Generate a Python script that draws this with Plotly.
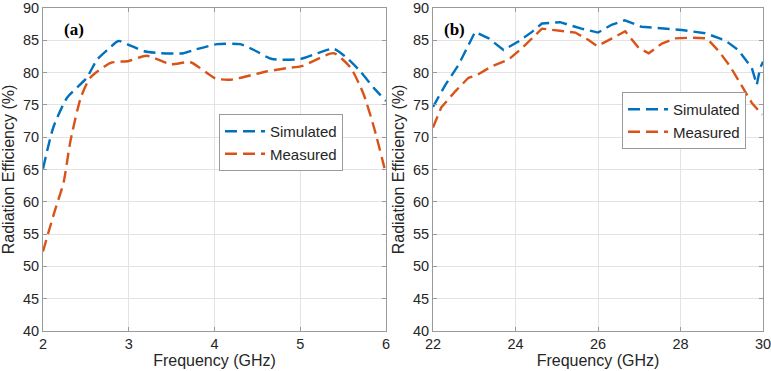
import plotly.graph_objects as go

# Panel (a) data
fa_sim = [2.0, 2.12, 2.28, 2.51, 2.63, 2.75, 2.88, 3.0, 3.18, 3.37, 3.64, 3.76, 4.03, 4.3, 4.46, 4.67, 5.0, 5.2, 5.39, 5.55, 5.7, 5.86, 6.0]
a_sim = [65.1, 71.5, 76.1, 79.2, 82.0, 83.5, 84.9, 84.3, 83.3, 83.0, 83.0, 83.5, 84.4, 84.4, 83.5, 82.1, 82.1, 83.0, 83.7, 82.2, 80.2, 77.6, 75.6]
fa_mea = [2.0, 2.06, 2.14, 2.24, 2.32, 2.44, 2.55, 2.79, 3.0, 3.21, 3.49, 3.72, 4.01, 4.19, 4.58, 4.85, 5.02, 5.39, 5.59, 5.74, 5.86, 6.0]
a_mea = [52.3, 55.1, 58.7, 63.0, 69.4, 76.1, 79.2, 81.5, 81.8, 82.6, 81.3, 81.6, 79.1, 78.9, 80.1, 80.7, 81.0, 83.0, 80.7, 76.6, 71.5, 64.3]

# Panel (b) data
fb_sim = [22.0, 22.3, 22.62, 23.02, 23.35, 23.71, 24.07, 24.4, 24.64, 25.08, 25.6, 26.0, 26.33, 26.65, 27.05, 27.54, 28.03, 28.6, 29.08, 29.4, 29.73, 29.85, 29.93, 30.0]
b_sim = [74.7, 78.1, 81.2, 86.3, 85.3, 83.5, 84.8, 86.3, 87.6, 87.8, 86.8, 86.2, 87.4, 88.1, 87.1, 86.8, 86.6, 86.1, 85.0, 83.5, 80.7, 78.1, 80.7, 81.7]
fb_mea = [22.0, 22.2, 22.54, 22.86, 23.06, 23.43, 23.83, 24.16, 24.64, 25.13, 25.45, 25.78, 25.98, 26.34, 26.66, 26.99, 27.23, 27.55, 27.88, 28.28, 28.64, 28.93, 29.2, 29.49, 29.73, 29.98]
b_mea = [71.5, 74.6, 77.1, 79.2, 79.6, 81.0, 82.0, 83.8, 86.8, 86.4, 86.2, 85.0, 84.1, 85.3, 86.4, 83.8, 83.0, 84.5, 85.3, 85.4, 85.3, 83.3, 81.0, 77.9, 75.3, 73.5]

xticks_a = [2, 3, 4, 5, 6]
xticks_b = [22, 24, 26, 28, 30]
yticks = [40, 45, 50, 55, 60, 65, 70, 75, 80, 85, 90]

BLUE = "#0072BD"
ORANGE = "#D95319"
FONT = "Liberation Sans, Arial, sans-serif"

fig = go.Figure()
lw = 2.4
dash = "12px,6px"
fig.add_trace(go.Scatter(x=fa_sim, y=a_sim, mode="lines", name="Simulated",
                         line=dict(color=BLUE, width=lw, dash=dash, shape="spline", smoothing=0.6),
                         xaxis="x", yaxis="y", legend="legend"))
fig.add_trace(go.Scatter(x=fa_mea, y=a_mea, mode="lines", name="Measured",
                         line=dict(color=ORANGE, width=lw, dash=dash, shape="spline", smoothing=0.6),
                         xaxis="x", yaxis="y", legend="legend"))
fig.add_trace(go.Scatter(x=fb_sim, y=b_sim, mode="lines", name="Simulated",
                         line=dict(color=BLUE, width=lw, dash=dash),
                         xaxis="x2", yaxis="y2", legend="legend2"))
fig.add_trace(go.Scatter(x=fb_mea, y=b_mea, mode="lines", name="Measured",
                         line=dict(color=ORANGE, width=lw, dash=dash),
                         xaxis="x2", yaxis="y2", legend="legend2"))

ydom = [1 - 331 / 371, 1 - 8 / 371]
axcommon = dict(showline=True, linecolor="#9a9a9a", linewidth=1, mirror="ticks",
                ticks="inside", ticklen=4, tickcolor="#9a9a9a",
                showgrid=True, gridcolor="#e3e3e3", gridwidth=1, zeroline=False,
                ticklabeloverflow="allow", automargin=False,
                tickfont=dict(family=FONT, size=14.5, color="#262626"),
                title_font=dict(family=FONT, size=16, color="#262626"))

fig.update_layout(
    width=771, height=371,
    margin=dict(l=0, r=0, t=0, b=0, autoexpand=False),
    paper_bgcolor="white", plot_bgcolor="white",
    xaxis=dict(domain=[43 / 771, 386 / 771], range=[2, 6], tickvals=xticks_a,
               title=dict(text="Frequency (GHz)", standoff=3), anchor="y", **axcommon),
    yaxis=dict(domain=ydom, range=[40, 90], tickvals=yticks,
               title=dict(text="Radiation Efficiency (%)", standoff=4), anchor="x", **axcommon),
    xaxis2=dict(domain=[433 / 771, 763 / 771], range=[22, 30], tickvals=xticks_b,
                title=dict(text="Frequency (GHz)", standoff=3), anchor="y2", **axcommon),
    yaxis2=dict(domain=ydom, range=[40, 90], tickvals=yticks,
                title=dict(text="Radiation Efficiency (%)", standoff=4), anchor="x2", **axcommon),
    legend=dict(x=219 / 771, y=1 - 114 / 371, xanchor="left", yanchor="top",
                bgcolor="white", bordercolor="#9a9a9a", borderwidth=1,
                font=dict(family=FONT, size=15, color="#262626"),
                tracegroupgap=0, itemwidth=40),
    legend2=dict(x=622 / 771, y=1 - 92 / 371, xanchor="left", yanchor="top",
                 bgcolor="white", bordercolor="#9a9a9a", borderwidth=1,
                 font=dict(family=FONT, size=15, color="#262626"),
                 tracegroupgap=0, itemwidth=40),
    showlegend=True,
    annotations=[
        dict(text="<b>(a)</b>", x=62 / 771, y=1 - 29 / 371, xref="paper", yref="paper",
             xanchor="left", yanchor="middle", showarrow=False,
             font=dict(family="Liberation Serif, Times New Roman, serif", size=17, color="black")),
        dict(text="<b>(b)</b>", x=442 / 771, y=1 - 29 / 371, xref="paper", yref="paper",
             xanchor="left", yanchor="middle", showarrow=False,
             font=dict(family="Liberation Serif, Times New Roman, serif", size=17, color="black")),
    ],
)

fig.write_html("out.html")
